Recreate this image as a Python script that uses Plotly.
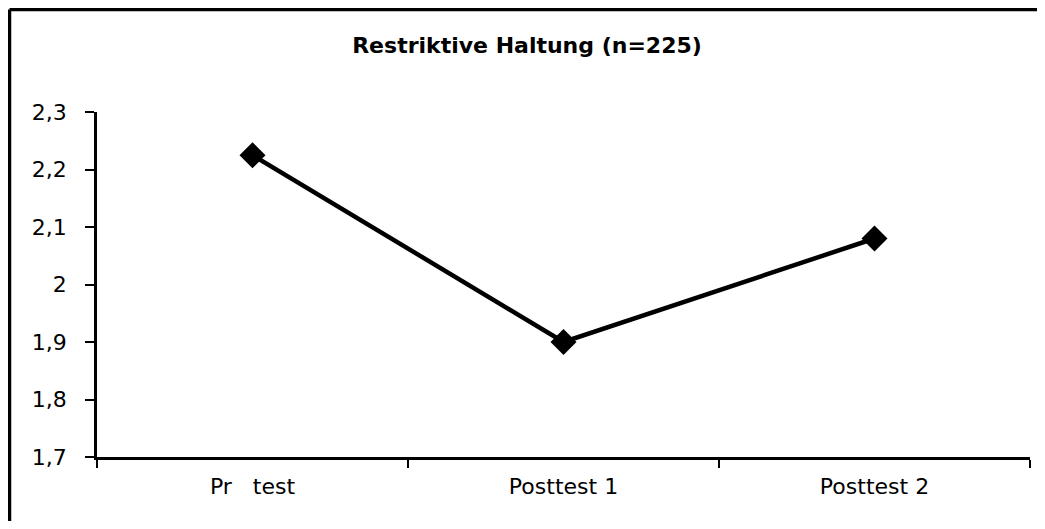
import plotly.graph_objects as go

categories = ["Pr\u00a0\u00a0\u00a0test", "Posttest 1", "Posttest 2"]
values = [2.225, 1.90, 2.08]
y_ticks = [1.7, 1.8, 1.9, 2.0, 2.1, 2.2, 2.3]
y_tick_labels = ["1,7", "1,8", "1,9", "2", "2,1", "2,2", "2,3"]
title_text = "Restriktive Haltung (n=225)"

OFF = 8  # page body margin
W, H = 1029, 513
L, T = 97 - OFF, 112 - OFF
R = max(W - (1030 - OFF), 6)
B = H - (457 - OFF)
pw, ph = W - L - R, H - T - B

fig = go.Figure(go.Scatter(
    x=categories, y=values, mode="lines+markers",
    line=dict(color="black", width=4.5),
    marker=dict(symbol="diamond", size=20, color="black"),
    showlegend=False, hoverinfo="skip",
))

FAM = "DejaVu Sans, Arial, sans-serif"
font = dict(family=FAM, size=22, color="black")

fig.update_layout(
    width=W, height=H,
    margin=dict(l=L, r=R, t=T, b=B),
    paper_bgcolor="white", plot_bgcolor="white",
    font=font,
    title=dict(text="<b>" + title_text + "</b>", x=(527 - OFF) / W, xref="container",
               xanchor="center", y=1 - 37 / H, yref="container", yanchor="middle",
               font=dict(family=FAM, size=22, color="black")),
    xaxis=dict(
        type="category", showline=True, linecolor="black", linewidth=2.5,
        ticks="outside", tickson="boundaries", ticklen=8, tickwidth=2, tickcolor="black",
        showgrid=False, zeroline=False, ticklabelstandoff=8,
        range=[-0.5, 2.5], tickfont=font,
    ),
    yaxis=dict(
        range=[1.7, 2.3], tickvals=y_ticks, ticktext=y_tick_labels,
        showline=True, linecolor="black", linewidth=2.5,
        ticks="outside", ticklen=9, tickwidth=2, tickcolor="black",
        showgrid=False, zeroline=False, ticklabelstandoff=14, tickfont=font,
    ),
)

# figure frame: only the top and left edges fall inside the image
x0 = (1.5 - L) / pw
y1 = (H - B - 1.5) / ph
frame = dict(color="black", width=3.5)
fig.add_shape(type="line", xref="paper", yref="paper",
              x0=x0, x1=x0, y0=-B / ph, y1=y1, line=frame, layer="below")
fig.add_shape(type="line", xref="paper", yref="paper",
              x0=x0, x1=(W - L) / pw, y0=y1, y1=y1, line=frame, layer="below")

fig.write_html("out.html")
